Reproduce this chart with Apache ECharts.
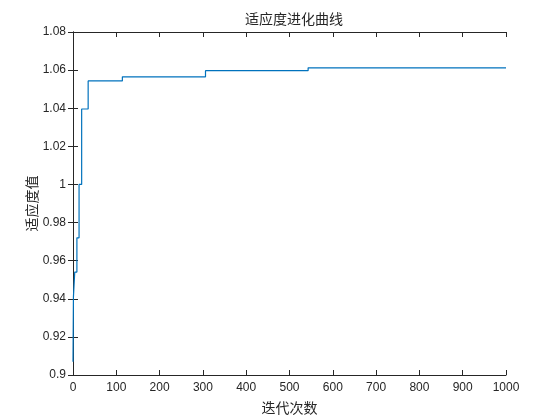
<!DOCTYPE html>
<html>
<head>
<meta charset="utf-8">
<script src="https://cdn.jsdelivr.net/npm/echarts@6/dist/echarts.min.js"></script>
<style>html,body{margin:0;padding:0;background:#fff;}#c{width:560px;height:420px;}</style>
</head>
<body>
<div id="c"></div>
<script>
var titleText = '适应度进化曲线';
var xName = '迭代次数';
var yName = '适应度值';
// iteration at which each fitness level begins (step curve)
var iterations = [0, 1, 4, 9, 14, 20, 35, 114, 306, 543, 1000];
var fitness = [0.907, 0.941, 0.954, 0.972, 1.0, 1.0396, 1.0543, 1.0565, 1.0597, 1.0612, 1.0612];
var xTicks = [0, 100, 200, 300, 400, 500, 600, 700, 800, 900, 1000];
var yTicks = [0.9, 0.92, 0.94, 0.96, 0.98, 1, 1.02, 1.04, 1.06, 1.08];

var data = iterations.map(function (it, i) { return [it, fitness[i]]; });
var axisColor = '#262626';
var tickFont = {color: axisColor, fontSize: 12, fontFamily: 'Liberation Sans, Arial, sans-serif'};
var cjk = '"Noto Sans CJK SC", sans-serif';

var chart = echarts.init(document.getElementById('c'), null, {renderer: 'canvas'});
chart.setOption({
  animation: false,
  backgroundColor: '#ffffff',
  title: {
    text: titleText, left: 289, top: 7, textAlign: 'center',
    textStyle: {fontFamily: cjk, fontWeight: 'normal', fontSize: 14, color: axisColor}
  },
  grid: {left: 73, right: 54, top: 32, bottom: 45, containLabel: false},
  xAxis: [{
    type: 'value', min: xTicks[0], max: xTicks[xTicks.length - 1], interval: 100,
    name: xName, nameLocation: 'middle', nameGap: 26, nameMoveOverlap: false,
    nameTextStyle: {fontFamily: cjk, fontSize: 14, color: axisColor},
    axisLine: {show: true, lineStyle: {color: axisColor, width: 1}},
    axisTick: {show: true, inside: true, length: 5, lineStyle: {color: axisColor}},
    axisLabel: Object.assign({margin: 7, formatter: function (v) { return String(v); }}, tickFont),
    splitLine: {show: false}
  }, {
    type: 'value', position: 'top', min: xTicks[0], max: xTicks[xTicks.length - 1], interval: 100,
    axisLine: {show: true, lineStyle: {color: axisColor, width: 1}},
    axisTick: {show: true, inside: true, length: 5, lineStyle: {color: axisColor}},
    axisLabel: {show: false}, splitLine: {show: false}
  }],
  yAxis: [{
    type: 'value', min: yTicks[0], max: yTicks[yTicks.length - 1], interval: 0.02,
    name: yName, nameLocation: 'middle', nameGap: 34, nameRotate: 90, nameMoveOverlap: false,
    nameTextStyle: {fontFamily: cjk, fontSize: 14, color: axisColor},
    axisLine: {show: true, lineStyle: {color: axisColor, width: 1}},
    axisTick: {show: true, inside: true, length: 5, lineStyle: {color: axisColor}},
    axisLabel: Object.assign({margin: 7, formatter: function (v) { return String(+v.toFixed(2)); }}, tickFont),
    splitLine: {show: false}
  }, {
    type: 'value', position: 'right', min: yTicks[0], max: yTicks[yTicks.length - 1], interval: 0.02,
    axisLine: {show: true, lineStyle: {color: axisColor, width: 1}},
    axisTick: {show: true, inside: true, length: 5, lineStyle: {color: axisColor}},
    axisLabel: {show: false}, splitLine: {show: false}
  }],
  series: [{
    type: 'line', step: 'end', data: data, showSymbol: false, symbol: 'none',
    lineStyle: {color: '#0072BD', width: 1.2}, clip: true
  }]
});
</script>
</body>
</html>
